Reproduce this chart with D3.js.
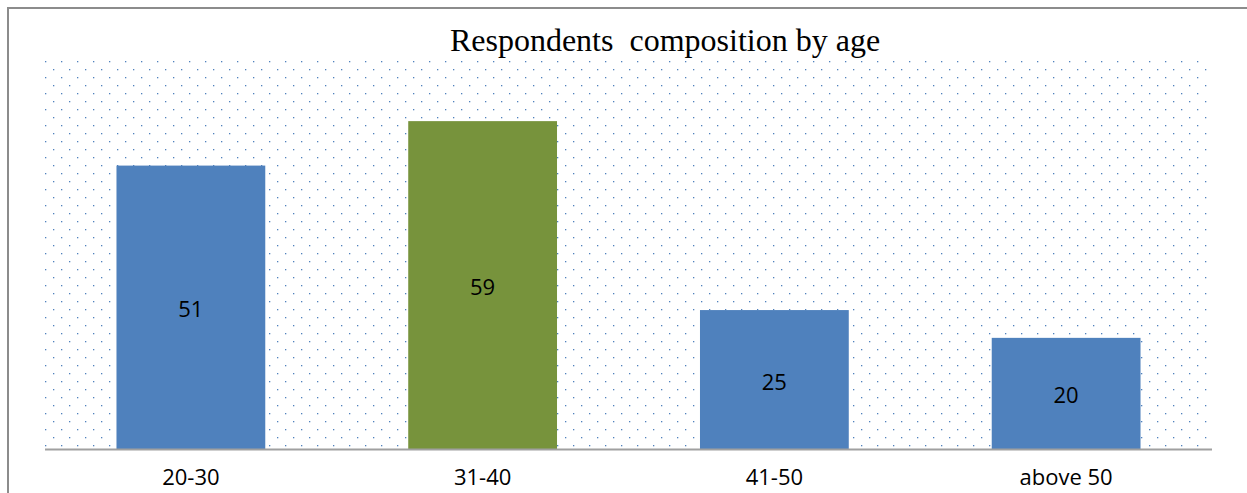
<!DOCTYPE html>
<html>
<head>
<meta charset="utf-8">
<script src="https://d3js.org/d3.v7.min.js"></script>
<style>
  body { margin: 0; background: #fff; }
  svg { display: block; }
</style>
</head>
<body>
<div id="chart"></div>
<script>
const width = 1247;
const height = 493;

// chart data
const categories = ["20-30", "31-40", "41-50", "above 50"];
const values = [51, 59, 25, 20];
const barColors = ["#4F81BD", "#77933C", "#4F81BD", "#4F81BD"];
const title = "Respondents  composition by age";

const plot = { left: 45, right: 1212, top: 60, bottom: 449 };
const labelFont = "'Open Sans', Lato, sans-serif";

const svg = d3.select("#chart")
    .append("svg")
    .attr("width", width)
    .attr("height", height);

// dotted background pattern (staggered rows)
const defs = svg.append("defs");
const pat = defs.append("pattern")
    .attr("id", "dots")
    .attr("patternUnits", "userSpaceOnUse")
    .attr("x", 45).attr("y", 61)
    .attr("width", 16).attr("height", 16);
pat.append("rect").attr("x", 0).attr("y", 0).attr("width", 1.3).attr("height", 1.3).attr("fill", "#4F81BD");
pat.append("rect").attr("x", 8).attr("y", 8).attr("width", 1.3).attr("height", 1.3).attr("fill", "#4F81BD");

// outer chart frame
svg.append("rect")
    .attr("x", 8).attr("y", 8)
    .attr("width", width + 20).attr("height", height + 20)
    .attr("fill", "none")
    .attr("stroke", "#8c8c8c")
    .attr("stroke-width", 2);

svg.append("rect")
    .attr("x", plot.left).attr("y", plot.top)
    .attr("width", plot.right - plot.left)
    .attr("height", plot.bottom - plot.top)
    .attr("fill", "url(#dots)");

const x = d3.scaleBand()
    .domain(categories)
    .range([plot.left, plot.right])
    .paddingInner(0.49)
    .paddingOuter(0.245);

const y = d3.scaleLinear()
    .domain([0, 70])
    .range([plot.bottom, plot.top]);

// bars
svg.selectAll("rect.bar")
    .data(categories)
    .join("rect")
    .attr("class", "bar")
    .attr("x", d => x(d))
    .attr("y", (d, i) => y(values[i]))
    .attr("width", x.bandwidth())
    .attr("height", (d, i) => y(0) - y(values[i]))
    .attr("fill", (d, i) => barColors[i]);

// value labels centred in bars
svg.selectAll("text.val")
    .data(categories)
    .join("text")
    .attr("class", "val")
    .attr("x", d => x(d) + x.bandwidth() / 2)
    .attr("y", (d, i) => (y(values[i]) + y(0)) / 2 + 10)
    .attr("text-anchor", "middle")
    .style("font-family", labelFont)
    .style("font-size", "22px")
    .attr("fill", "#000")
    .text((d, i) => values[i]);

// x axis
const xAxis = svg.append("g")
    .attr("transform", `translate(0, ${plot.bottom})`)
    .call(d3.axisBottom(x).tickSize(0));
xAxis.select(".domain")
    .attr("d", `M${plot.left},0.5H${plot.right}`)
    .attr("stroke", "#a0a0a0")
    .attr("stroke-width", 2);
xAxis.selectAll("text")
    .attr("y", 36)
    .attr("dy", null)
    .style("font-family", labelFont)
    .style("font-size", "22px")
    .attr("fill", "#000");

// title
svg.append("text")
    .attr("x", 665)
    .attr("y", 51)
    .attr("text-anchor", "middle")
    .style("font-family", "'Liberation Serif', 'Times New Roman', serif")
    .style("font-size", "32px")
    .style("white-space", "pre")
    .attr("fill", "#000")
    .text(title);
</script>
</body>
</html>
